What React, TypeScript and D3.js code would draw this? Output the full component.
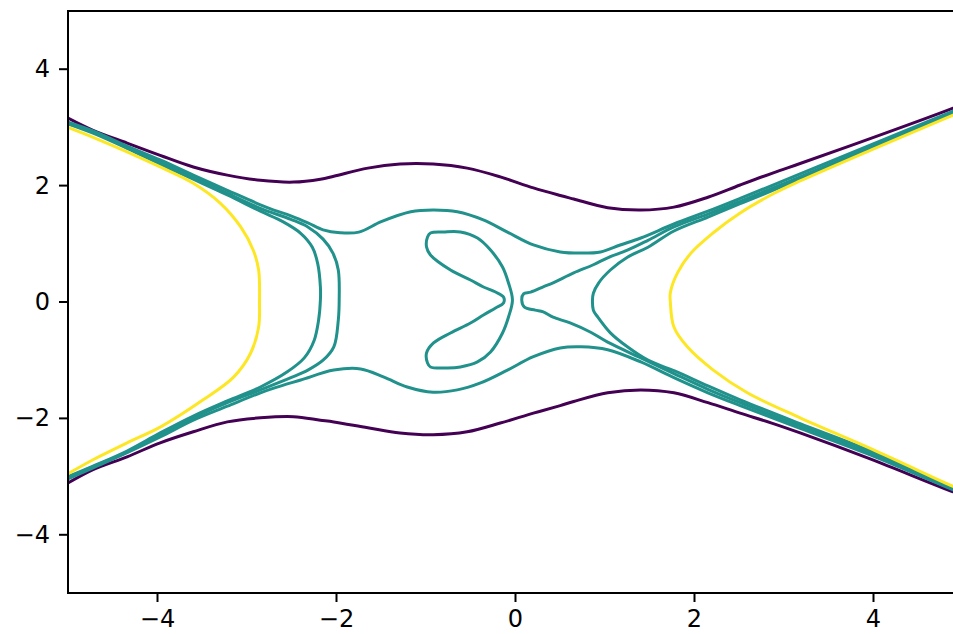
import React from "react";
import * as d3 from "d3";

type Pt = [number, number];

const xTicks = [-4, -2, 0, 2, 4];
const yTicks = [-4, -2, 0, 2, 4];
const xDomain: [number, number] = [-5, 5];
const yDomain: [number, number] = [-5, 5];

const levelColors = ["#440154", "#21918c", "#fde725"];

// Level 0 (purple)
const purpleTop: Pt[] = [[-5.0,3.16],[-4.72,2.95],[-4.34,2.73],[-3.97,2.52],[-3.60,2.32],[-3.22,2.18],[-2.85,2.09],[-2.48,2.06],[-2.18,2.11],[-2.03,2.16],[-1.65,2.30],[-1.29,2.37],[-0.92,2.37],[-0.54,2.30],[-0.17,2.15],[0.20,1.96],[0.50,1.83],[0.65,1.77],[1.03,1.62],[1.40,1.58],[1.77,1.63],[2.15,1.80],[2.51,2.01],[2.88,2.22],[3.18,2.38],[3.97,2.81],[4.89,3.33],[5.0,3.40]];
const purpleBottom: Pt[] = [[-5.0,-3.11],[-4.72,-2.88],[-4.34,-2.66],[-3.97,-2.42],[-3.60,-2.23],[-3.22,-2.06],[-2.85,-1.99],[-2.48,-1.97],[-2.18,-2.03],[-2.03,-2.06],[-1.65,-2.16],[-1.29,-2.25],[-0.92,-2.28],[-0.54,-2.23],[-0.17,-2.08],[0.20,-1.91],[0.50,-1.78],[0.65,-1.71],[1.03,-1.56],[1.40,-1.51],[1.77,-1.56],[2.15,-1.73],[2.51,-1.91],[2.88,-2.09],[3.18,-2.25],[3.97,-2.70],[4.89,-3.26],[5.0,-3.31]];

// Level 1 (teal)
const tealTop: Pt[] = [[-5.0,3.09],[-4.72,2.94],[-4.34,2.68],[-3.97,2.44],[-3.60,2.18],[-3.22,1.92],[-2.85,1.67],[-2.70,1.58],[-2.51,1.48],[-2.32,1.36],[-2.15,1.24],[-1.96,1.19],[-1.75,1.20],[-1.50,1.38],[-1.17,1.55],[-0.92,1.58],[-0.65,1.55],[-0.36,1.41],[-0.09,1.20],[0.20,0.98],[0.50,0.86],[0.73,0.84],[0.95,0.86],[1.17,0.98],[1.40,1.10],[1.77,1.34],[2.15,1.56],[2.51,1.78],[3.18,2.20],[3.97,2.70],[4.89,3.28],[5.0,3.35]];
const tealBottom: Pt[] = [[-5.0,-3.04],[-4.72,-2.85],[-4.34,-2.59],[-3.97,-2.32],[-3.60,-2.03],[-3.22,-1.79],[-2.85,-1.56],[-2.70,-1.48],[-2.40,-1.34],[-2.03,-1.17],[-1.73,-1.15],[-1.47,-1.29],[-1.21,-1.46],[-0.92,-1.55],[-0.65,-1.51],[-0.39,-1.39],[-0.09,-1.17],[0.20,-0.94],[0.50,-0.79],[0.73,-0.77],[1.03,-0.82],[1.40,-1.03],[1.77,-1.30],[2.15,-1.56],[2.51,-1.78],[3.18,-2.17],[3.97,-2.63],[4.89,-3.23],[5.0,-3.30]];
const tealLeftInner: Pt[] = [[-5.0,3.06],[-4.72,2.90],[-4.34,2.64],[-3.97,2.37],[-3.60,2.11],[-3.22,1.84],[-2.85,1.56],[-2.60,1.38],[-2.40,1.18],[-2.27,0.94],[-2.21,0.66],[-2.18,0.26],[-2.18,0.03],[-2.20,-0.31],[-2.25,-0.66],[-2.36,-0.96],[-2.55,-1.20],[-2.85,-1.46],[-3.22,-1.70],[-3.60,-1.96],[-3.97,-2.25],[-4.34,-2.56],[-4.72,-2.82],[-5.0,-3.00]];
const tealLeftOuter: Pt[] = [[-5.0,3.07],[-4.72,2.92],[-4.34,2.66],[-3.97,2.40],[-3.60,2.15],[-3.22,1.87],[-2.85,1.61],[-2.51,1.42],[-2.32,1.29],[-2.15,1.08],[-2.04,0.84],[-1.98,0.55],[-1.97,0.03],[-1.98,-0.31],[-2.03,-0.77],[-2.15,-1.00],[-2.32,-1.17],[-2.51,-1.30],[-2.85,-1.51],[-3.22,-1.73],[-3.60,-1.99],[-3.97,-2.28],[-4.34,-2.58],[-4.72,-2.83],[-5.0,-3.02]];
const tealArrow: Pt[] = [[5.0,3.33],[4.89,3.26],[3.97,2.66],[3.18,2.15],[2.51,1.73],[2.15,1.51],[1.77,1.29],[1.48,1.06],[1.25,0.89],[1.03,0.76],[0.87,0.64],[0.65,0.50],[0.42,0.33],[0.31,0.26],[0.17,0.17],[0.09,0.14],[0.07,0.03],[0.10,-0.09],[0.22,-0.14],[0.31,-0.17],[0.42,-0.26],[0.61,-0.36],[0.84,-0.52],[1.03,-0.69],[1.40,-0.96],[1.77,-1.23],[2.15,-1.50],[2.51,-1.73],[3.18,-2.13],[3.97,-2.59],[4.89,-3.21],[5.0,-3.28]];
const tealRightArc: Pt[] = [[5.0,3.31],[4.89,3.24],[3.97,2.63],[3.18,2.11],[2.51,1.69],[2.15,1.46],[1.77,1.22],[1.48,0.94],[1.25,0.77],[1.06,0.55],[0.93,0.33],[0.87,0.15],[0.86,0.03],[0.87,-0.14],[0.92,-0.26],[1.06,-0.53],[1.25,-0.77],[1.48,-1.00],[1.77,-1.18],[2.15,-1.44],[2.51,-1.68],[3.18,-2.09],[3.97,-2.56],[4.89,-3.19],[5.0,-3.26]];
const tealLoop: Pt[] = [[-0.034,0.034],[-0.078,0.326],[-0.145,0.601],[-0.279,0.893],[-0.425,1.099],[-0.615,1.202],[-0.804,1.202],[-0.950,1.185],[-0.983,1.116],[-0.994,0.944],[-0.950,0.807],[-0.726,0.549],[-0.503,0.378],[-0.358,0.258],[-0.223,0.172],[-0.134,0.086],[-0.134,-0.017],[-0.223,-0.103],[-0.358,-0.223],[-0.503,-0.361],[-0.726,-0.532],[-0.916,-0.704],[-0.994,-0.876],[-0.983,-1.047],[-0.950,-1.116],[-0.760,-1.133],[-0.615,-1.116],[-0.425,-1.030],[-0.279,-0.858],[-0.145,-0.532],[-0.078,-0.258]];

// Level 2 (yellow)
const yellowLeft: Pt[] = [[-5.0,3.00],[-4.72,2.83],[-4.34,2.58],[-3.97,2.32],[-3.60,2.04],[-3.30,1.70],[-3.07,1.29],[-2.93,0.89],[-2.87,0.55],[-2.86,0.0],[-2.87,-0.43],[-2.96,-0.88],[-3.15,-1.29],[-3.49,-1.68],[-3.97,-2.15],[-4.34,-2.42],[-4.72,-2.71],[-5.0,-2.95]];
const yellowRight: Pt[] = [[5.0,3.28],[4.89,3.21],[3.97,2.61],[3.18,2.08],[2.88,1.86],[2.51,1.53],[2.21,1.19],[1.96,0.84],[1.81,0.50],[1.73,0.16],[1.73,0.0],[1.77,-0.43],[1.92,-0.77],[2.21,-1.17],[2.59,-1.56],[3.18,-1.99],[3.97,-2.52],[4.89,-3.17],[5.0,-3.24]];

const openLines: { pts: Pt[]; level: number }[] = [
  { pts: purpleTop, level: 0 },
  { pts: purpleBottom, level: 0 },
  { pts: tealTop, level: 1 },
  { pts: tealBottom, level: 1 },
  { pts: tealLeftInner, level: 1 },
  { pts: tealLeftOuter, level: 1 },
  { pts: tealArrow, level: 1 },
  { pts: tealRightArc, level: 1 },
  { pts: yellowLeft, level: 2 },
  { pts: yellowRight, level: 2 },
];
const closedLines: { pts: Pt[]; level: number }[] = [{ pts: tealLoop, level: 1 }];

const W = 953;
const H = 634;
const left = 68;
const top = 11;
const right = 963;
const bottom = 593;

export default function App() {
  const x = d3.scaleLinear().domain(xDomain).range([left, right]);
  const y = d3.scaleLinear().domain(yDomain).range([bottom, top]);
  const line = d3
    .line<Pt>()
    .x((d) => x(d[0]))
    .y((d) => y(d[1]))
    .curve(d3.curveCatmullRom.alpha(0.5));
  const closed = d3
    .line<Pt>()
    .x((d) => x(d[0]))
    .y((d) => y(d[1]))
    .curve(d3.curveCatmullRomClosed.alpha(0.5));
  const font = "'DejaVu Sans', sans-serif";
  const fs = 24;
  const tickLen = 9;
  return (
    <svg
      width={W}
      height={H}
      style={{ position: "absolute", left: 0, top: 0, background: "#fff" }}
    >
      <defs>
        <clipPath id="plotclip">
          <rect x={left} y={top} width={right - left} height={bottom - top} />
        </clipPath>
      </defs>
      <rect x={0} y={0} width={W} height={H} fill="#fff" />
      <g clipPath="url(#plotclip)" fill="none" strokeWidth={3} strokeLinejoin="round" strokeLinecap="round">
        {openLines.map((l, i) => (
          <path key={"o" + i} d={line(l.pts) || ""} stroke={levelColors[l.level]} />
        ))}
        {closedLines.map((l, i) => (
          <path key={"c" + i} d={closed(l.pts) || ""} stroke={levelColors[l.level]} />
        ))}
      </g>
      <rect
        x={left}
        y={top}
        width={right - left}
        height={bottom - top}
        fill="none"
        stroke="#000"
        strokeWidth={2}
      />
      {xTicks.map((t) => (
        <g key={"xt" + t}>
          <line x1={x(t)} x2={x(t)} y1={bottom} y2={bottom + tickLen} stroke="#000" strokeWidth={2} />
          <text
            x={x(t)}
            y={627}
            textAnchor="middle"
            fontFamily={font}
            fontSize={fs}
            fill="#000"
          >
            {t < 0 ? "\u2212" + Math.abs(t) : String(t)}
          </text>
        </g>
      ))}
      {yTicks.map((t) => (
        <g key={"yt" + t}>
          <line x1={left - tickLen} x2={left} y1={y(t)} y2={y(t)} stroke="#000" strokeWidth={2} />
          <text
            x={left - tickLen - 9}
            y={y(t)}
            textAnchor="end"
            dominantBaseline="central"
            fontFamily={font}
            fontSize={fs}
            fill="#000"
          >
            {t < 0 ? "\u2212" + Math.abs(t) : String(t)}
          </text>
        </g>
      ))}
    </svg>
  );
}
